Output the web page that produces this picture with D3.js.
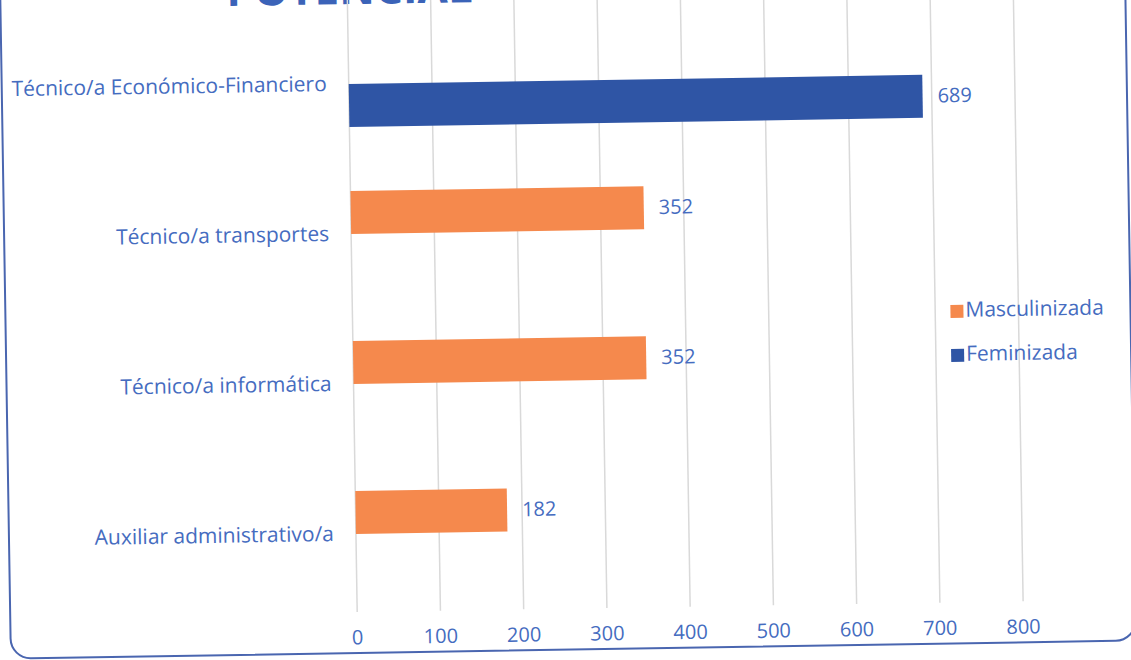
<!DOCTYPE html>
<html>
<head>
<meta charset="utf-8">
<script src="https://cdn.jsdelivr.net/npm/d3@7"></script>
<style>
  html, body { margin: 0; padding: 0; background: #ffffff; }
  svg { display: block; }
  text { font-family: "Open Sans", Lato, sans-serif; }
</style>
</head>
<body>
<svg id="chart" width="1131" height="660"></svg>
<script>
// ---- data ----
const categories = [
  "Técnico/a Económico-Financiero",
  "Técnico/a transportes",
  "Técnico/a informática",
  "Auxiliar administrativo/a"
];
const seriesNames = ["Masculinizada", "Feminizada"];
const masculinizada = [0, 352, 352, 182];
const feminizada = [689, 0, 0, 0];
const xTicks = [0, 100, 200, 300, 400, 500, 600, 700, 800];
const titleText = "POTENCIAL";

// ---- styles ----
const colors = { "Masculinizada": "#F5894D", "Feminizada": "#2F55A5" };
const textBlue = "#456CC0";
const fs = 21;
const fw = 400;

const svg = d3.select("#chart");
svg.append("rect").attr("width", 1131).attr("height", 660).attr("fill", "#fff");

// whole scanned page is slightly tilted
const g = svg.append("g").attr("transform", "rotate(-0.92, 357, 600)");

// frame
g.append("rect")
  .attr("x", 10).attr("y", -60)
  .attr("width", 1125).attr("height", 713)
  .attr("rx", 20).attr("ry", 20)
  .attr("fill", "none")
  .attr("stroke", "#4A66B0")
  .attr("stroke-width", 2);

// clipped title (cut at the top edge, as in the scan)
g.append("text")
  .attr("x", 236).attr("y", 4)
  .attr("font-size", 44).attr("font-weight", 700)
  .attr("fill", "#3B63B8")
  .text(titleText);

const x = d3.scaleLinear().domain([0, 800]).range([357, 1023]);
const y = d3.scaleBand().domain(categories).range([9, 609])
  .paddingInner(0.427).paddingOuter(0.2135);
const ySub = d3.scaleBand().domain(seriesNames).range([0, y.bandwidth()]).padding(0);

// gridlines
g.append("g").selectAll("line").data(xTicks).join("line")
  .attr("x1", d => x(d)).attr("x2", d => x(d))
  .attr("y1", -40).attr("y2", 612)
  .attr("stroke", "#d9d9d9").attr("stroke-width", 1.5);

// x tick labels
g.append("g").selectAll("text").data(xTicks).join("text")
  .attr("x", d => x(d)).attr("y", 639)
  .attr("text-anchor", "middle").attr("dominant-baseline", "middle")
  .attr("font-size", fs - 1).attr("font-weight", fw).attr("fill", textBlue)
  .text(d => d);

// category labels
g.append("g").selectAll("text").data(categories).join("text")
  .attr("x", 335).attr("y", d => y(d) + y.bandwidth() / 2 + 1)
  .attr("text-anchor", "end").attr("dominant-baseline", "middle")
  .attr("font-size", fs).attr("font-weight", fw).attr("fill", textBlue)
  .text(d => d);

// bars
const rows = [];
categories.forEach((c, i) => {
  rows.push({ cat: c, series: "Masculinizada", value: masculinizada[i] });
  rows.push({ cat: c, series: "Feminizada", value: feminizada[i] });
});
const shown = rows.filter(r => r.value > 0);

g.append("g").selectAll("rect").data(shown).join("rect")
  .attr("x", x(0))
  .attr("y", d => y(d.cat) + ySub(d.series))
  .attr("width", d => x(d.value) - x(0))
  .attr("height", ySub.bandwidth())
  .attr("fill", d => colors[d.series]);

// data labels
g.append("g").selectAll("text").data(shown).join("text")
  .attr("x", d => x(d.value) + 15)
  .attr("y", d => y(d.cat) + ySub(d.series) + ySub.bandwidth() / 2 + 1)
  .attr("dominant-baseline", "middle")
  .attr("font-size", fs - 1).attr("font-weight", fw).attr("fill", textBlue)
  .text(d => d.value);

// legend
const legend = g.append("g").selectAll("g").data(seriesNames).join("g")
  .attr("transform", (d, i) => `translate(955, ${321 + i * 44})`);
legend.append("rect")
  .attr("x", 0).attr("y", -6.5).attr("width", 13).attr("height", 13)
  .attr("fill", d => colors[d]);
legend.append("text")
  .attr("x", 15).attr("y", 0)
  .attr("dominant-baseline", "middle")
  .attr("font-size", fs).attr("font-weight", fw).attr("fill", textBlue)
  .text(d => d);
</script>
</body>
</html>
